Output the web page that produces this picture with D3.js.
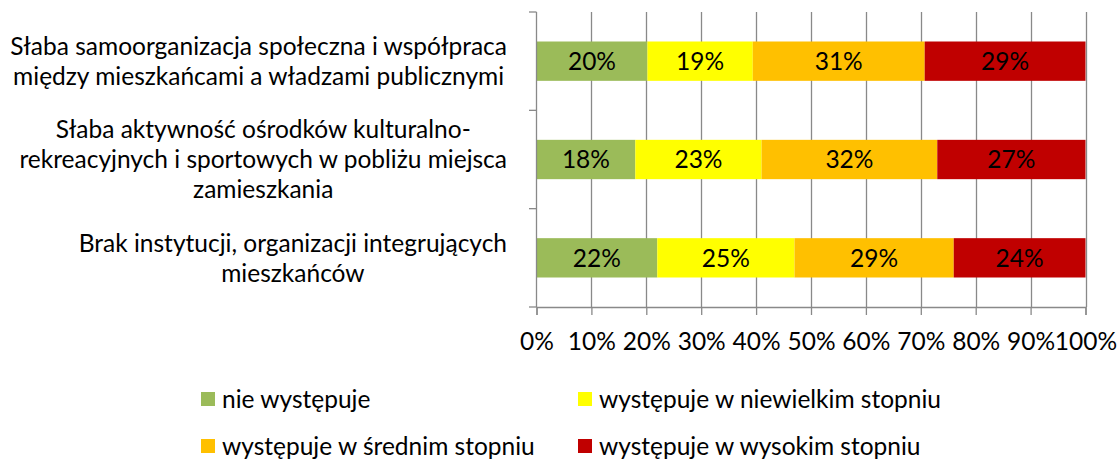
<!DOCTYPE html>
<html>
<head>
<meta charset="utf-8">
<script src="https://cdn.jsdelivr.net/npm/d3@7"></script>
<style>
  body { margin: 0; background: #fff; }
  text { font-family: Lato, "Open Sans", sans-serif; fill: #000; }
</style>
</head>
<body>
<svg id="chart" width="1117" height="460"></svg>
<script>
// Categories (each entry is a list of wrapped lines)
const categories = [
  ["Słaba samoorganizacja społeczna i współpraca", "między mieszkańcami a władzami publicznymi"],
  ["Słaba aktywność ośrodków kulturalno-", "rekreacyjnych i sportowych w pobliżu miejsca", "zamieszkania"],
  ["Brak instytucji, organizacji integrujących", "mieszkańców"]
];
const seriesNames = [
  "nie występuje",
  "występuje w niewielkim stopniu",
  "występuje w średnim stopniu",
  "występuje w wysokim stopniu"
];
// Percent values per series, in category order
const nieWystepuje = [20, 18, 22];
const niewielki    = [19, 23, 25];
const sredni       = [31, 32, 29];
const wysoki       = [29, 27, 24];
const seriesColors = ["#9BBB59", "#FFFF00", "#FFC000", "#C00000"];
const tickValues = [0, 10, 20, 30, 40, 50, 60, 70, 80, 90, 100];

const seriesValues = [nieWystepuje, niewielki, sredni, wysoki];
const rows = categories.map((c, i) => {
  const r = { key: i };
  seriesNames.forEach((s, j) => r[s] = seriesValues[j][i]);
  return r;
});

const FS = 24.5;
const svg = d3.select("#chart");
const x = d3.scaleLinear().domain([0, 100]).range([536.5, 1085.5]);
const y = d3.scaleBand().domain(d3.range(categories.length)).range([12, 307]).paddingInner(0.6).paddingOuter(0.3);
const yOuter = d3.scaleBand().domain(d3.range(categories.length)).range([12, 307]);

const stack = d3.stack().keys(seriesNames).offset(d3.stackOffsetExpand);
const stacked = stack(rows);

const grey = "#898989";

// vertical gridlines
svg.append("g").selectAll("line").data(tickValues.slice(1)).join("line")
  .attr("x1", d => Math.round(x(d)) + 0.5).attr("x2", d => Math.round(x(d)) + 0.5)
  .attr("y1", 12).attr("y2", 307)
  .attr("stroke", grey).attr("stroke-width", 1.3);

// bars
const layers = svg.append("g").selectAll("g").data(stacked).join("g")
  .attr("fill", (d, i) => seriesColors[i]);
layers.selectAll("rect").data(d => d).join("rect")
  .attr("x", d => x(d[0] * 100))
  .attr("width", d => x(d[1] * 100) - x(d[0] * 100))
  .attr("y", (d, i) => y(i))
  .attr("height", y.bandwidth());

// data labels
layers.each(function(layer, j) {
  d3.select(this).selectAll("text").data(layer).join("text")
    .attr("x", d => (x(d[0] * 100) + x(d[1] * 100)) / 2)
    .attr("y", (d, i) => y(i) + y.bandwidth() / 2)
    .attr("dy", "0.36em")
    .attr("text-anchor", "middle")
    .attr("font-size", FS)
    .text((d, i) => seriesValues[j][i] + "%");
});

// y axis line with category ticks
svg.append("line").attr("x1", 536.5).attr("x2", 536.5).attr("y1", 12).attr("y2", 307)
  .attr("stroke", grey).attr("stroke-width", 1.3);
svg.append("g").selectAll("line").data(d3.range(categories.length + 1)).join("line")
  .attr("x1", 529).attr("x2", 536.5)
  .attr("y1", d => d < categories.length ? yOuter(d) : 307)
  .attr("y2", d => d < categories.length ? yOuter(d) : 307)
  .attr("stroke", grey).attr("stroke-width", 1.3);

// x axis
const xAxis = svg.append("g").attr("transform", "translate(0,307)")
  .call(d3.axisBottom(x).tickValues(tickValues).tickSize(8).tickPadding(18).tickFormat(d => d + "%"));
xAxis.select(".domain").attr("stroke", grey).attr("stroke-width", 1.3);
xAxis.selectAll(".tick line").attr("stroke", grey).attr("stroke-width", 1.3);
xAxis.selectAll(".tick text").attr("font-size", FS).attr("font-family", "Lato, sans-serif").attr("fill", "#000");

// category labels: wrapped lines centered within a block that ends near the axis
const lineH = 30;
const labelRight = 507;
categories.forEach((lines, i) => {
  const g = svg.append("g");
  const cy = yOuter(i) + yOuter.bandwidth() / 2;
  const texts = lines.map((ln, k) => g.append("text")
    .attr("font-size", FS)
    .attr("text-anchor", "middle")
    .attr("y", cy + (k - (lines.length - 1) / 2) * lineH)
    .attr("dy", "0.36em")
    .text(ln));
  const w = d3.max(texts, t => t.node().getComputedTextLength());
  texts.forEach(t => t.attr("x", labelRight - w / 2));
});

// legend
const legendPos = [[201, 399], [578, 399], [201, 446], [578, 446]];
const leg = svg.append("g").selectAll("g").data(seriesNames).join("g")
  .attr("transform", (d, i) => `translate(${legendPos[i][0]},${legendPos[i][1]})`);
leg.append("rect").attr("x", 0).attr("y", -7).attr("width", 14).attr("height", 14)
  .attr("fill", (d, i) => seriesColors[i]);
leg.append("text").attr("x", 21).attr("dy", "0.36em").attr("font-size", FS).text(d => d);
</script>
</body>
</html>
